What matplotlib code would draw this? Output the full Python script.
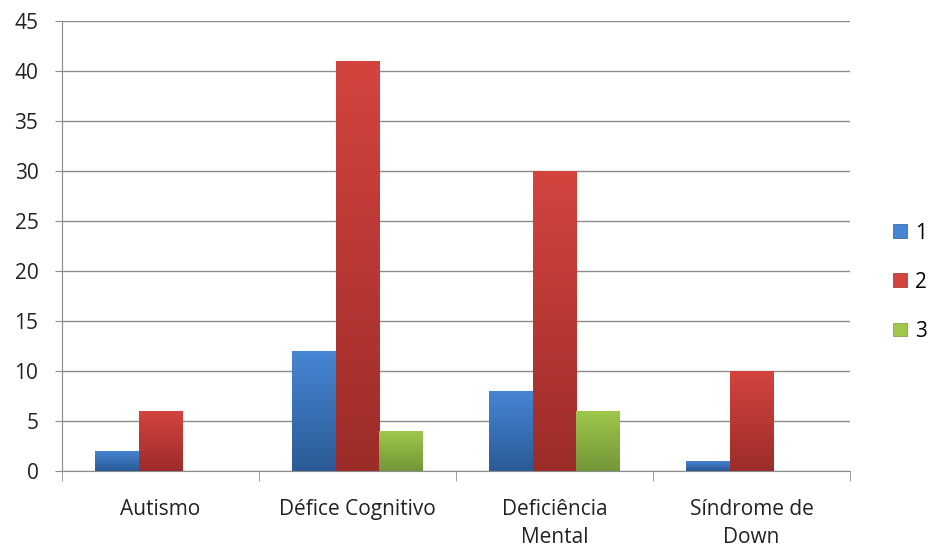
import matplotlib.pyplot as plt
import matplotlib.patches as mpatches
import numpy as np
from matplotlib.colors import LinearSegmentedColormap

plt.rcParams["font.family"] = ["Open Sans", "DejaVu Sans"]

categories = ["Autismo", "Défice Cognitivo", "Deficiência\nMental", "Síndrome de\nDown"]
series_names = ["1", "2", "3"]
values_1 = [2, 12, 8, 1]
values_2 = [6, 41, 30, 10]
values_3 = [0, 4, 6, 0]

# (top colour, bottom colour) for the Excel-like gradient
colors = [("#4686d4", "#2b5a96"), ("#d4443f", "#9c2c29"), ("#9fc84c", "#739638")]

fig = plt.figure(figsize=(9.3, 5.48), dpi=100)
ax = fig.add_axes([0.0667, 0.1405, 0.8473, 0.8212])

x = np.arange(len(categories))
width = 1 / 4.5
series = [values_1, values_2, values_3]

grad = np.linspace(0, 1, 256).reshape(-1, 1)
handles = []
for i, (vals, (top, bot)) in enumerate(zip(series, colors)):
    cmap = LinearSegmentedColormap.from_list(f"g{i}", [bot, top])
    bars = ax.bar(x + (i - 1) * width, vals, width, color=top, zorder=2)
    for b in bars:
        if b.get_height() <= 0:
            continue
        bx, by = b.get_x(), b.get_y()
        im = ax.imshow(grad, cmap=cmap, aspect="auto", origin="lower",
                       extent=[bx, bx + b.get_width(), by, by + b.get_height()],
                       zorder=3)
        im.set_clip_path(b)
    handles.append(mpatches.Patch(facecolor=top, edgecolor=bot, linewidth=0.5))

ax.set_xlim(-0.5, len(categories) - 0.5)
ax.set_ylim(0, 45)
ax.set_yticks(range(0, 46, 5))
ax.yaxis.grid(True, color="#8c8c8c", linewidth=1.0, zorder=0)
ax.set_axisbelow(True)

ax.set_xticks(x)
ax.set_xticklabels(categories, fontsize=15, color="#222222", linespacing=1.45)
ax.set_xticks(np.arange(-0.5, len(categories), 1), minor=True)
ax.tick_params(axis="x", which="major", length=0, pad=20)
ax.tick_params(axis="x", which="minor", length=7, color="#8c8c8c")
ax.tick_params(axis="y", length=5, color="#8c8c8c", labelsize=15,
               labelcolor="#222222", pad=12)

for s in ["top", "right"]:
    ax.spines[s].set_visible(False)
for s in ["left", "bottom"]:
    ax.spines[s].set_color("#8c8c8c")

fig.legend(handles, series_names, loc="center left", bbox_to_anchor=(0.9605, 0.485),
           frameon=False, fontsize=15, handlelength=0.65, handleheight=0.65,
           handletextpad=0.4, labelspacing=1.35, borderaxespad=0, borderpad=0)

fig.savefig("out.png", dpi=100)
